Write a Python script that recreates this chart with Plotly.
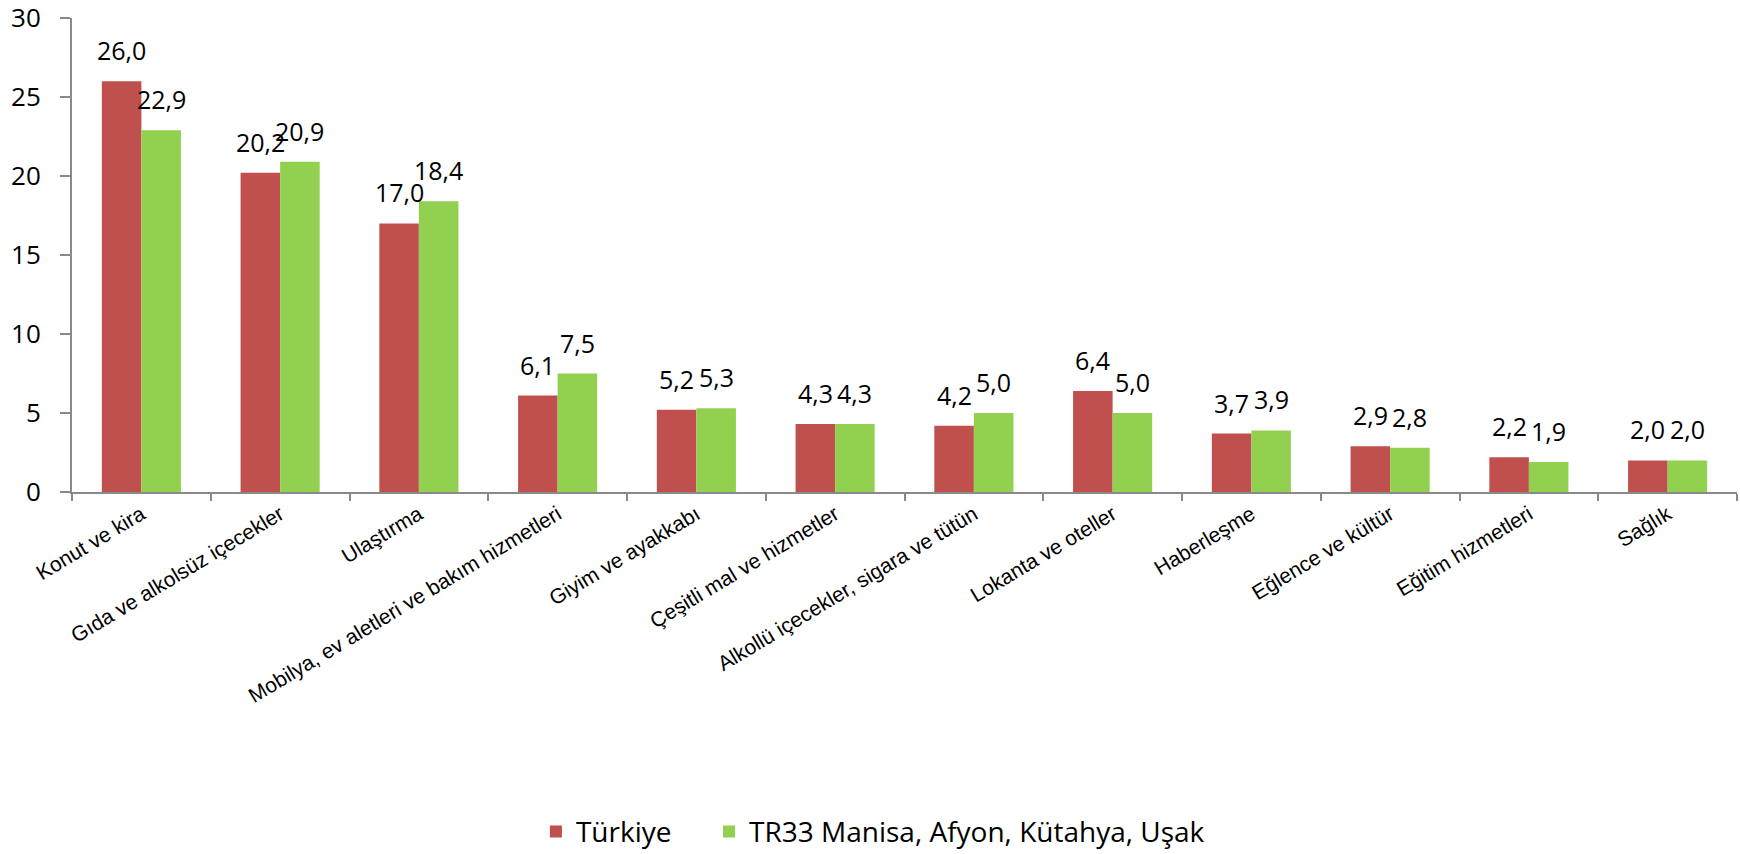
import plotly.graph_objects as go

categories = ["Konut ve kira", "Gıda ve alkolsüz içecekler", "Ulaştırma",
              "Mobilya, ev aletleri ve bakım hizmetleri", "Giyim ve ayakkabı",
              "Çeşitli mal ve hizmetler", "Alkollü içecekler, sigara ve tütün",
              "Lokanta ve oteller", "Haberleşme", "Eğlence ve kültür",
              "Eğitim hizmetleri", "Sağlık"]
turkiye = [26.0, 20.2, 17.0, 6.1, 5.2, 4.3, 4.2, 6.4, 3.7, 2.9, 2.2, 2.0]
tr33 = [22.9, 20.9, 18.4, 7.5, 5.3, 4.3, 5.0, 5.0, 3.9, 2.8, 1.9, 2.0]
series_names = ["Türkiye", "TR33 Manisa, Afyon, Kütahya, Uşak"]
y_ticks = [0, 5, 10, 15, 20, 25, 30]

RED = "#C0504D"
GREEN = "#92D050"
AXIS = "#898989"
NUM_FONT = "Open Sans"

fig = go.Figure()
fig.add_trace(go.Bar(x=categories, y=turkiye, name=series_names[0], legend="legend",
                     marker=dict(color=RED, line=dict(width=0))))
fig.add_trace(go.Bar(x=categories, y=tr33, name=series_names[1], legend="legend2",
                     marker=dict(color=GREEN, line=dict(width=0))))

def fmt(v):
    return f"{v:.1f}".replace(".", ",")

annotations = []
for series, shift in ((turkiye, -19.7), (tr33, 19.7)):
    for c, v in zip(categories, series):
        annotations.append(dict(x=c, y=v, xref="x", yref="y", text=fmt(v),
                                showarrow=False, xanchor="center", yanchor="bottom",
                                xshift=shift, yshift=12,
                                font=dict(family=NUM_FONT, size=25, color="black")))

legend_common = dict(orientation="h", xref="container", yref="container",
                     xanchor="left", y=0.026, yanchor="middle",
                     font=dict(family=NUM_FONT, size=28, color="black"),
                     bgcolor="rgba(0,0,0,0)")

fig.update_layout(
    width=1740, height=854,
    margin=dict(l=72, r=3, t=18, b=362),
    paper_bgcolor="white", plot_bgcolor="white",
    barmode="group", bargap=0.43, bargroupgap=0,
    showlegend=True,
    legend=dict(x=0.308, **legend_common),
    legend2=dict(x=0.4075, **legend_common),
    annotations=annotations,
)
fig.update_xaxes(showline=True, linecolor=AXIS, linewidth=2, automargin=False,
                 ticks="outside", tickson="boundaries", ticklen=7, tickwidth=1.5,
                 tickcolor=AXIS, tickangle=-31, showgrid=False,
                 tickfont=dict(family="Liberation Sans", size=21, color="black"))
fig.update_yaxes(range=[0, 30.0001], tickvals=y_ticks, showline=True, linecolor=AXIS,
                 linewidth=2, ticks="outside", ticklen=10, tickwidth=1.5,
                 tickcolor=AXIS, showgrid=False, zeroline=False, automargin=False,
                 ticklabelstandoff=14, ticklabeloverflow="allow",
                 tickfont=dict(family=NUM_FONT, size=26, color="black"))

fig.write_html("out.html", config={"displayModeBar": False},
               post_script="document.body.style.margin='0';document.body.style.overflow='hidden';")
